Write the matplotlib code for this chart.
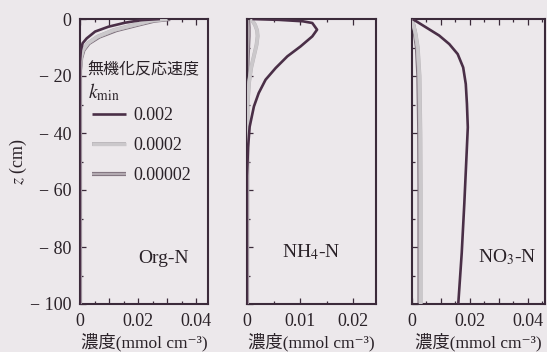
import matplotlib
matplotlib.use('Agg')
import matplotlib.pyplot as plt
import matplotlib.patheffects as pe
from matplotlib.ticker import MultipleLocator, FuncFormatter

plt.rcParams['mathtext.fontset'] = 'stix'
SERIF = ['Liberation Serif', 'DejaVu Serif', 'Noto Sans CJK JP']

# Mineralisation rate constants (legend labels)
rate_labels = ['0.002', '0.0002', '0.00002']

# ---- Org-N profiles: depth z (cm) and concentration (mmol cm^-3)
org_z_k1 = [0, -0.4, -1.3, -2.7, -4.4, -6.8, -8.5, -11, -15, -100]
org_c_k1 = [0.0275, 0.021, 0.0155, 0.0098, 0.0052, 0.0023, 0.0009, 0.0003, 0.0, 0.0]
org_z_k2 = [0, -0.6, -2.1, -3.9, -6.2, -8.5, -10.9, -13.7, -18, -100]
org_c_k2 = [0.030, 0.0245, 0.0185, 0.0115, 0.006, 0.0027, 0.001, 0.0003, 0.0, 0.0]
org_z_k3 = [0, -0.6, -2.1, -3.9, -6.2, -8.5, -10.9, -13.7, -18, -100]
org_c_k3 = [0.031, 0.0255, 0.0195, 0.0125, 0.0066, 0.003, 0.0012, 0.0004, 0.0, 0.0]

# ---- NH4-N profiles
nh4_z_k1 = [0, -0.3, -0.8, -1.4, -3.75, -6.1, -9.6, -13.1, -17.2, -21.3, -26, -30.7,
            -37.8, -45, -55, -100]
nh4_c_k1 = [0.001, 0.006, 0.0105, 0.0123, 0.0132, 0.0123, 0.0101, 0.0076, 0.0054,
            0.0035, 0.0022, 0.0013, 0.0005, 0.0002, 0.0, 0.0]
nh4_z_k2 = [0, -2, -4, -6, -9, -13, -17, -22, -30, -100]
nh4_c_k2 = [0.0008, 0.0015, 0.0019, 0.002, 0.0018, 0.0013, 0.0008, 0.0004, 0.0001, 0.0]
nh4_z_k3 = [0, -3, -6, -10, -15, -25, -100]
nh4_c_k3 = [0.0002, 0.0003, 0.0003, 0.0002, 0.0001, 0.0, 0.0]

# ---- NO3-N profiles
no3_z_k1 = [0, -2.9, -5.8, -8.8, -12.3, -17, -22.8, -29.8, -38, -47, -64.6, -82.1, -100]
no3_c_k1 = [0.0002, 0.0048, 0.0094, 0.0129, 0.0158, 0.0177, 0.0186, 0.019, 0.0193,
            0.0189, 0.0181, 0.0172, 0.016]
no3_z_k2 = [0, -5, -10, -20, -40, -60, -80, -100]
no3_c_k2 = [0.0, 0.0012, 0.002, 0.0026, 0.0029, 0.003, 0.003, 0.003]
no3_z_k3 = [0, -5, -10, -20, -40, -60, -80, -100]
no3_c_k3 = [0.0, 0.001, 0.0017, 0.0022, 0.0025, 0.0026, 0.0026, 0.0026]

panel_names = ['Org-N', 'NH$_4$-N', 'NO$_3$-N']
x_limits = [0.044, 0.0243, 0.046]

PAPER = '#ece8eb'
INK = '#3b2a3a'
DARK = '#4a2f47'
TEXT = '#2a2228'

W, H = 547, 352
fig = plt.figure(figsize=(W / 100, H / 100), dpi=100, facecolor=PAPER)

boxes = [(80, 128), (247, 129), (412, 133)]
top_px, bot_px = 19, 304
axes = []
for left, width in boxes:
    ax = fig.add_axes([left / W, 1 - bot_px / H, width / W, (bot_px - top_px) / H])
    ax.set_facecolor(PAPER)
    axes.append(ax)

style_k1 = dict(color=DARK, lw=1.9, solid_capstyle='butt', zorder=4)
style_k2 = dict(color='#cbc8cb', lw=2.4, solid_capstyle='butt', zorder=3,
                path_effects=[pe.Stroke(linewidth=2.8, foreground='#b9b5b9'), pe.Normal()])
style_k3 = dict(color='#b3aab1', lw=1.6, solid_capstyle='butt', zorder=2,
                path_effects=[pe.Stroke(linewidth=3.0, foreground='#7f717d'), pe.Normal()])

profiles = [
    ((org_c_k1, org_z_k1), (org_c_k2, org_z_k2), (org_c_k3, org_z_k3)),
    ((nh4_c_k1, nh4_z_k1), (nh4_c_k2, nh4_z_k2), (nh4_c_k3, nh4_z_k3)),
    ((no3_c_k1, no3_z_k1), (no3_c_k2, no3_z_k2), (no3_c_k3, no3_z_k3)),
]

legend_handles = None
for i, (ax, prof) in enumerate(zip(axes, profiles)):
    (c1, z1), (c2, z2), (c3, z3) = prof
    h3, = ax.plot(c3, z3, label=rate_labels[2], **style_k3)
    h2, = ax.plot(c2, z2, label=rate_labels[1], **style_k2)
    h1, = ax.plot(c1, z1, label=rate_labels[0], **style_k1)
    if i == 0:
        legend_handles = [h1, h2, h3]

    ax.set_xlim(0, x_limits[i])
    ax.set_ylim(-100, 0)
    for sp in ax.spines.values():
        sp.set_color(INK)
        sp.set_linewidth(1.5)

    ax.xaxis.set_major_locator(MultipleLocator(0.01))
    ax.xaxis.set_minor_locator(MultipleLocator(0.005))
    ax.yaxis.set_major_locator(MultipleLocator(20))
    ax.yaxis.set_minor_locator(MultipleLocator(10))

    if i == 1:
        ax.xaxis.set_major_formatter(FuncFormatter(
            lambda v, p: '0' if abs(v) < 1e-9 else f'{v:.2f}'))
    else:
        ax.xaxis.set_major_formatter(FuncFormatter(
            lambda v, p: '0' if abs(v) < 1e-9 else
            (f'{v:.2f}' if abs(round(v / 0.02) * 0.02 - v) < 1e-9 else '')))

    ax.tick_params(which='both', direction='in', top=True, right=False,
                   color=INK, width=0.9, labelcolor=TEXT)
    ax.tick_params(which='major', length=4.0)
    ax.tick_params(which='minor', length=2.2)
    ax.tick_params(axis='x', pad=6.5)
    ax.tick_params(axis='y', pad=6)
    for lab in ax.get_xticklabels() + ax.get_yticklabels():
        lab.set_family(SERIF)
        lab.set_fontsize(13)

    if i == 0:
        ax.yaxis.set_major_formatter(FuncFormatter(
            lambda v, p: '0' if abs(v) < 1e-9 else f'\u2212 {abs(int(round(v)))}'))
        ax.set_ylabel('$z$ (cm)', family=SERIF, fontsize=13, color=TEXT,
                      labelpad=1)
    else:
        ax.tick_params(axis='y', labelleft=False)

    ax.set_xlabel('濃度(mmol cm\u207b\u00b3)', family=SERIF, fontsize=12.5,
                  color=TEXT, labelpad=1.8)

name_pos = [(0.656, 0.161), (0.496, 0.182), (0.714, 0.165)]
for ax, name, (px, py) in zip(axes, panel_names, name_pos):
    ax.text(px, py, name, transform=ax.transAxes, ha='center', va='center',
            family=SERIF, fontsize=14, color=TEXT)

# legend heading: rate constant name and symbol
ax0 = axes[0]
ax0.text(0.06, 0.821, '無機化反応速度', transform=ax0.transAxes, ha='left',
         va='center', family=['Noto Sans CJK JP'], fontsize=11.5, color=TEXT)
ax0.text(0.06, 0.744, '$k_{\\rm min}$', transform=ax0.transAxes, ha='left',
         va='center', fontsize=14, color=TEXT)

leg = ax0.legend(handles=legend_handles, loc='upper left',
                 bbox_to_anchor=(0.095, 0.69), frameon=False,
                 prop={'family': SERIF, 'size': 13},
                 handlelength=1.85, handletextpad=0.45, labelspacing=0.72,
                 borderpad=0, borderaxespad=0)
for t in leg.get_texts():
    t.set_color(TEXT)

fig.savefig('out.png', dpi=100, facecolor=PAPER)
